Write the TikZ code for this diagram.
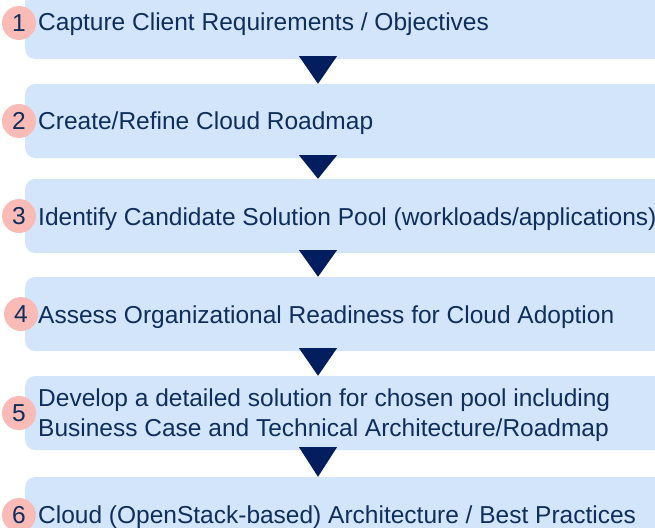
\documentclass[tikz,border=0pt]{standalone}
\usepackage{fontspec}
\setmainfont{Liberation Sans}
\definecolor{boxblue}{RGB}{211,229,250}
\definecolor{numpink}{RGB}{250,186,182}
\definecolor{textnavy}{RGB}{14,46,94}
\definecolor{arrownavy}{RGB}{3,30,94}
\tikzset{
  stepBox/.style={rectangle, rounded corners=10pt, fill=boxblue, minimum width=660pt, minimum height=74pt, anchor=west, inner sep=0pt},
  stepNum/.style={circle, fill=numpink, minimum size=34pt, inner sep=0pt, text=textnavy, font=\fontsize{24.5}{30}\selectfont},
  stepText/.style={anchor=base west, inner sep=0pt, text=textnavy, font=\fontsize{24.5}{30}\selectfont},
  stepArrow/.style={fill=arrownavy}
}
\begin{document}
\begin{tikzpicture}[x=1pt, y=-1pt]
	\useasboundingbox (0,0) rectangle (655,527);
	\clip (0,0) rectangle (655,527);
	\coordinate (arrowX) at (318,0);

	\node[stepBox](box1) at (25,22){};
	\node[stepBox](box2) at (25,121){};
	\node[stepBox](box3) at (25,216){};
	\node[stepBox](box4) at (25,314){};
	\node[stepBox](box5) at (25,413){};
	\node[stepBox](box6) at (25,514){};

	\node[stepNum](num1) at (19,23){1};
	\node[stepNum](num2) at (19,121){2};
	\node[stepNum](num3) at (19,216){3};
	\node[stepNum](num4) at (21,314){4};
	\node[stepNum](num5) at (19,413){5};
	\node[stepNum](num6) at (19,515){6};

	\node[stepText](text1) at (38,31){Capture Client Requirements / Objectives};
	\node[stepText](text2) at (38,129.5){Create/Refine Cloud Roadmap};
	\node[stepText](text3) at (38,225){Identify Candidate Solution Pool (workloads/applications)};
	\node[stepText](text4) at (38,323){Assess Organizational Readiness for Cloud Adoption};
	\node[stepText, anchor=west, align=left](text5) at (38,415){Develop a detailed solution for chosen pool including\\Business Case and Technical Architecture/Roadmap};
	\node[stepText](text6) at (38,523){Cloud (OpenStack-based) Architecture / Best Practices};

	\fill[stepArrow] (box1.south -| arrowX) ++(-19,-3) -- ++(38,0) -- (box2.north -| arrowX) -- cycle;
	\fill[stepArrow] (box2.south -| arrowX) ++(-19,-3) -- ++(38,0) -- (box3.north -| arrowX) -- cycle;
	\fill[stepArrow] (box3.south -| arrowX) ++(-19,-3) -- ++(38,0) -- (box4.north -| arrowX) -- cycle;
	\fill[stepArrow] (box4.south -| arrowX) ++(-19,-3) -- ++(38,0) -- (box5.north -| arrowX) -- cycle;
	\fill[stepArrow] (box5.south -| arrowX) ++(-19,-3) -- ++(38,0) -- (box6.north -| arrowX) -- cycle;
\end{tikzpicture}
\end{document}
